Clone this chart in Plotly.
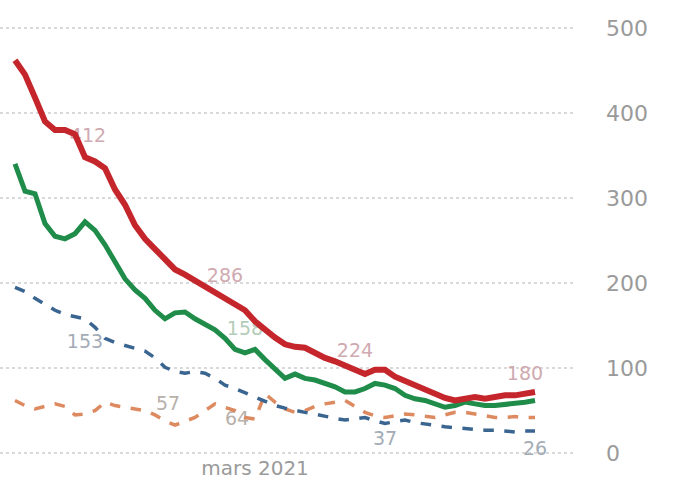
import pandas as pd
import plotly.graph_objects as go

# ---- data ----
start_date = "2021-02-05"
red_values = [462, 445, 418, 390, 380, 380, 375, 348, 343, 335, 310, 292, 268, 252, 240, 228,
              216, 210, 203, 196, 190, 182, 176, 168, 155, 145, 136, 128, 125, 124, 118, 112,
              108, 103, 97, 93, 98, 98, 90, 85, 81, 76, 70, 65, 62, 64, 66, 64, 66, 68, 68, 70, 72]
green_values = [340, 308, 305, 270, 255, 252, 258, 272, 262, 245, 225, 205, 192, 182, 168, 158,
                165, 166, 158, 152, 145, 135, 122, 118, 122, 110, 98, 88, 93, 88, 86, 82,
                78, 72, 72, 76, 82, 80, 76, 68, 64, 62, 58, 54, 56, 60, 58, 56, 56, 57, 58, 60, 62]
blue_values = [195, 190, 182, 175, 168, 163, 160, 158, 148, 135, 130, 127, 123, 120, 112, 101,
               96, 94, 96, 94, 88, 80, 76, 71, 66, 60, 56, 53, 50, 48, 46, 43,
               41, 39, 40, 42, 38, 35, 37, 39, 36, 34, 32, 31, 30, 29, 28, 27, 27, 26, 25, 26, 26]
orange_values = [62, 56, 52, 55, 58, 55, 45, 46, 50, 60, 56, 54, 52, 50, 45, 38,
                 33, 38, 42, 50, 58, 54, 50, 42, 40, 70, 60, 52, 48, 50, 55, 58,
                 60, 62, 55, 48, 44, 42, 44, 46, 45, 44, 42, 45, 48, 48, 46, 44, 42, 42, 43, 42, 42]

dates = pd.date_range(start_date, periods=len(red_values), freq="D")

y_ticks = [0, 100, 200, 300, 400, 500]
x_tick_dates = ["2021-03-01"]
x_tick_text = ["mars 2021"]

# value labels: (text, day index, value, colour)
value_labels = [
    ("412", 7.3, 372, "#cfaab0"),
    ("286", 21, 207, "#cfaab0"),
    ("224", 34, 119, "#cfaab0"),
    ("180", 51, 92, "#cfaab0"),
    ("158", 23, 145, "#b3cdb9"),
    ("153", 7, 129, "#a3acb6"),
    ("37", 37, 15, "#a3acb6"),
    ("26", 52, 4, "#a3acb6"),
    ("57", 15.3, 56, "#b8b0aa"),
    ("64", 22.2, 39, "#b8b0aa"),
]

fig = go.Figure()

lab_x = [pd.Timestamp(start_date) + pd.Timedelta(days=d) for _, d, _, _ in value_labels]
fig.add_trace(go.Scatter(
    x=lab_x, y=[v for _, _, v, _ in value_labels],
    text=[t for t, _, _, _ in value_labels], mode="text",
    textfont=dict(family="DejaVu Sans", size=19, color=[c for _, _, _, c in value_labels]),
    hoverinfo="skip", showlegend=False,
))

fig.add_trace(go.Scatter(x=dates, y=orange_values, mode="lines",
                         line=dict(color="#dd8a60", width=3.5, dash="dash"), showlegend=False))
fig.add_trace(go.Scatter(x=dates, y=blue_values, mode="lines",
                         line=dict(color="#3a6590", width=3.5, dash="dash"), showlegend=False))
fig.add_trace(go.Scatter(x=dates, y=green_values, mode="lines",
                         line=dict(color="#1f8c4a", width=5), showlegend=False))
fig.add_trace(go.Scatter(x=dates, y=red_values, mode="lines",
                         line=dict(color="#c4262c", width=6), showlegend=False))

x0 = pd.Timestamp(start_date) - pd.Timedelta(hours=36)
x1 = pd.Timestamp(start_date) + pd.Timedelta(days=56)

fig.update_layout(
    width=685, height=482,
    margin=dict(l=0, r=110, t=10, b=22),
    paper_bgcolor="white", plot_bgcolor="white",
    hovermode=False,
    font=dict(family="DejaVu Sans", color="#9a9a9a"),
    xaxis=dict(type="date", range=[x0, x1], tickvals=x_tick_dates, ticktext=x_tick_text,
               showgrid=False, zeroline=False, showline=False, ticks="",
               automargin=False, ticklabelstandoff=-6,
               tickfont=dict(size=20, color="#9a9a9a")),
    yaxis=dict(side="right", range=[-8, 521], tickvals=y_ticks,
               showgrid=True, gridcolor="#d9d9d9", griddash="dot", gridwidth=2,
               zeroline=False, showline=False, ticks="", ticklabelstandoff=30,
               automargin=False,
               tickfont=dict(size=22, color="#9a9a9a")),
)

fig.write_html("out.html", config={"displayModeBar": False},
               post_script="document.body.style.margin='0';")
